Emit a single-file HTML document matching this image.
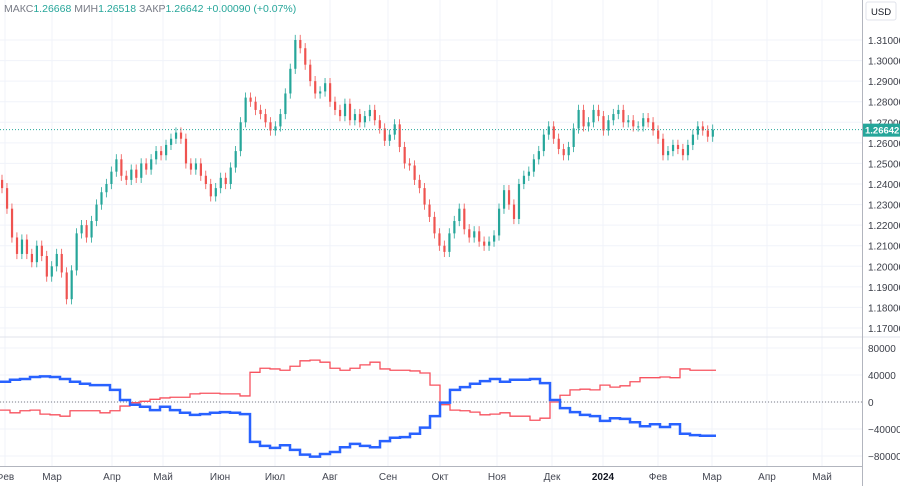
<!DOCTYPE html>
<html><head><meta charset="utf-8"><style>
body{margin:0;background:#fff;width:900px;height:486px;overflow:hidden;font-family:"Liberation Sans","DejaVu Sans",sans-serif}
svg text{font-family:"Liberation Sans","DejaVu Sans",sans-serif}
</style></head><body>
<svg id="c" width="900" height="486">
<g id="grid"></g>
<g id="candles"></g>
<g id="lower"></g>
<g id="axes"></g>
<text x="4" y="12" font-size="10.5" fill="#787b86">МАКС<tspan fill="#26a69a">1.26668</tspan>  МИН<tspan fill="#26a69a">1.26518</tspan>  ЗАКР<tspan fill="#26a69a">1.26642</tspan>  <tspan fill="#26a69a">+0.00090 (+0.07%)</tspan></text>
</svg>
<script>
const priceTicks=[1.31,1.30,1.29,1.28,1.27,1.26,1.25,1.24,1.23,1.22,1.21,1.20,1.19,1.18,1.17];
const lowerTicks=[80000,40000,0,-40000,-80000];
const months=["Фев","Мар","Апр","Май","Июн","Июл","Авг","Сен","Окт","Ноя","Дек","2024","Фев","Мар","Апр","Май"];
const monthX=[5,52,112,163,220,275,330,388,440,497,552,603,658,712,767,822];
const closes=[1.238,1.228,1.214,1.206,1.213,1.206,1.202,1.210,1.205,1.195,1.200,1.206,1.197,1.184,1.198,1.216,1.220,1.214,1.222,1.230,1.236,1.240,1.246,1.252,1.244,1.242,1.247,1.243,1.250,1.247,1.252,1.256,1.254,1.259,1.262,1.265,1.262,1.250,1.247,1.250,1.244,1.240,1.234,1.238,1.243,1.240,1.248,1.256,1.270,1.282,1.280,1.276,1.274,1.270,1.266,1.268,1.274,1.284,1.296,1.310,1.306,1.298,1.290,1.284,1.285,1.289,1.280,1.276,1.273,1.279,1.271,1.274,1.270,1.273,1.276,1.271,1.267,1.261,1.264,1.269,1.258,1.250,1.249,1.242,1.238,1.230,1.224,1.216,1.210,1.207,1.216,1.222,1.228,1.218,1.214,1.217,1.212,1.210,1.212,1.215,1.228,1.237,1.230,1.223,1.240,1.244,1.246,1.252,1.256,1.264,1.268,1.262,1.257,1.254,1.258,1.267,1.276,1.268,1.270,1.276,1.273,1.266,1.271,1.274,1.276,1.270,1.271,1.268,1.268,1.272,1.270,1.266,1.262,1.254,1.256,1.259,1.257,1.254,1.259,1.264,1.268,1.266,1.263,1.26642];
const blueK=[30,33,34,37,38,37,34,30,27,25,25,18,3,-4,-7,-12,-7,-12,-16,-19,-18,-16,-15,-16,-18,-59,-65,-68,-64,-71,-78,-81,-77,-74,-67,-62,-65,-67,-58,-53,-52,-47,-38,-21,-1,18,22,27,31,34,30,33,33,34,28,3,-9,-15,-19,-21,-28,-24,-25,-30,-36,-33,-37,-33,-47,-49,-50,-50];
const redK=[-12,-16,-13,-12,-18,-19,-21,-13,-13,-13,-16,-13,-6,-1,1,4,6,7,7,12,13,13,12,12,9,44,50,49,47,53,61,62,59,50,47,50,55,59,49,47,47,46,43,25,-4,-12,-13,-15,-19,-18,-16,-21,-21,-27,-24,0,10,18,19,18,25,22,24,30,36,36,37,36,49,47,47,47];
const lastPrice=1.26642;
const NS="http://www.w3.org/2000/svg";
const PW=862;
const py=p=>40+(1.31-p)/0.14*288;
const ly=v=>402-v/40000*27;
const cx=i=>i*4.97+1;
const lxs=i=>i*10;
function mk(t,a,parent){const e=document.createElementNS(NS,t);for(const k in a)e.setAttribute(k,a[k]);document.getElementById(parent).appendChild(e);return e;}
priceTicks.forEach(p=>{const e=mk('line',{x1:0,x2:PW,y1:py(p),y2:py(p),stroke:'#f0f3fa'},'grid');

});
lowerTicks.forEach(v=>{const e=mk('line',{x1:0,x2:PW,y1:ly(v),y2:ly(v),stroke:'#f0f3fa'},'grid');

});
monthX.forEach(x=>{const e=mk('line',{x1:x,x2:x,y1:0,y2:466,stroke:'#f0f3fa'},'grid');

});
closes.forEach((c,i)=>{const o=i?closes[i-1]:c+0.004;const up=c>=o;const col=up?'#26a69a':'#ef5350';
const x=cx(i);const hi=Math.max(o,c)+0.0025,lo=Math.min(o,c)-0.0025;
const w=mk('line',{x1:x+1,x2:x+1,y1:py(hi),y2:py(lo),stroke:col,'stroke-width':0.8},'candles');


const b=mk('rect',{x:x,y:py(Math.max(o,c)),width:2.2,height:Math.max(1,Math.abs(py(o)-py(c))),fill:col},'candles');

});
const lp=mk('line',{x1:0,x2:PW,y1:py(lastPrice),y2:py(lastPrice),stroke:'#26a69a','stroke-dasharray':'1 2'},'axes');


const sep=mk('line',{x1:0,x2:900,y1:337,y2:337,stroke:'#e0e3eb'},'axes');


const zl=mk('line',{x1:0,x2:PW,y1:ly(0),y2:ly(0),stroke:'#787b86','stroke-dasharray':'1 2'},'lower');


function stepPath(arr){let d='';arr.forEach((v,i)=>{const x=lxs(i),y=ly(v*1000);if(!i)d+='M'+x+','+y;else d+='H'+x+'V'+y;});d+='H'+(lxs(arr.length-1)+6);return d;}
const rp=mk('path',{d:stepPath(redK),fill:'none',stroke:'#f7525f','stroke-width':1.3},'lower');


const bp=mk('path',{d:stepPath(blueK),fill:'none',stroke:'#2962ff','stroke-width':2.5},'lower');


const va=mk('line',{x1:PW+0.5,x2:PW+0.5,y1:0,y2:486,stroke:'#b2b5be'},'axes');


const ha=mk('line',{x1:0,x2:PW,y1:466.5,y2:466.5,stroke:'#b2b5be'},'axes');


priceTicks.forEach(p=>{const t=mk('text',{x:868,y:py(p)+4,'font-size':10,fill:'#3b3e48'},'axes');t.textContent=p.toFixed(5);

});
lowerTicks.forEach(v=>{const t=mk('text',{x:868,y:ly(v)+4,'font-size':10,fill:'#3b3e48'},'axes');t.textContent=v===0?'0':(v<0?'−'+(-v):String(v));

});
months.forEach((m,i)=>{const t=mk('text',{x:monthX[i],y:480,'font-size':10,fill:m==='2024'?'#131722':'#434651','text-anchor':'middle','font-weight':m==='2024'?'bold':'normal'},'axes');t.textContent=m;

});
const pb=mk('rect',{x:863,y:py(lastPrice)-6,width:37,height:13,fill:'#26a69a'},'axes');


const pt=mk('text',{x:865,y:py(lastPrice)+4,'font-size':9.5,fill:'#fff','font-weight':'bold'},'axes');pt.textContent=lastPrice.toFixed(5);


const ub=mk('rect',{x:866,y:2,width:30,height:18,fill:'#fff',stroke:'#e0e3eb',rx:2},'axes');


const ut=mk('text',{x:871,y:15,'font-size':9.5,fill:'#131722'},'axes');ut.textContent='USD';


</script>
</body></html>
